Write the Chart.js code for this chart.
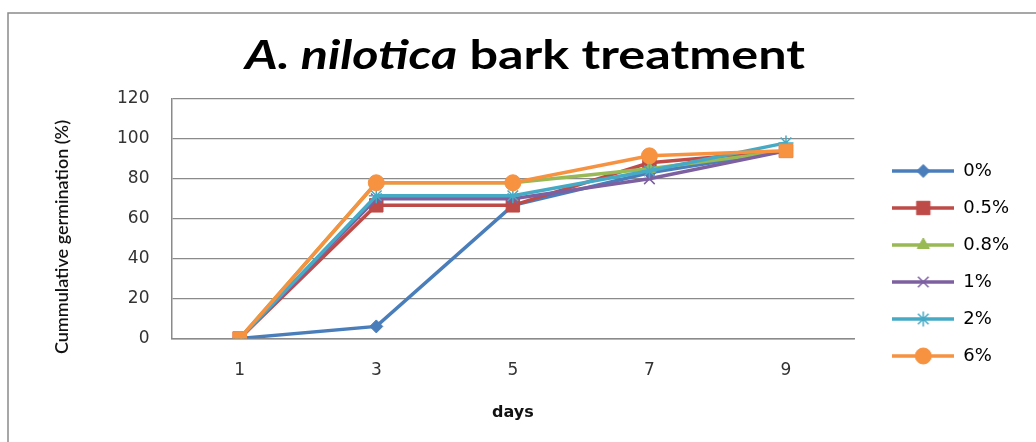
<!DOCTYPE html>
<html>
<head>
<meta charset="utf-8">
<script src="https://cdn.jsdelivr.net/npm/chart.js@4.4.1/dist/chart.umd.min.js"></script>
<style>
  html, body { margin: 0; padding: 0; background: #ffffff; }
  #wrap { width: 1036px; height: 442px; }
</style>
</head>
<body>
<div id="wrap"><canvas id="c" width="1036" height="442"></canvas></div>
<script>
// Cumulative germination (%) of A. nilotica seeds by day, per bark-extract concentration
const days = ['1', '3', '5', '7', '9'];
const seriesNames = ['0%', '0.5%', '0.8%', '1%', '2%', '6%'];
const germ0 = [0, 6, 66.7, 83, 94];
const germ05 = [0, 66.7, 66.7, 88, 94];
const germ08 = [0, 78, 78, 85, 94];
const germ1 = [0, 70, 70, 80, 94];
const germ2 = [0, 71.5, 71.5, 84, 98];
const germ6 = [0, 78, 78, 91.5, 94];
const yTicks = [0, 20, 40, 60, 80, 100, 120];
const yTitle = 'Cummulative germination (%)';

const seriesValues = [germ0, germ05, germ08, germ1, germ2, germ6];
const colors = ['#4A7EBB', '#BE4B48', '#98B954', '#7D60A0', '#46AAC5', '#F69240'];
const styles = ['rectRot', 'rect', 'triangle', 'crossRot', 'star', 'circle'];
const radii = [6.5, 9.5, 7, 7.5, 7.5, 8];

const datasets = seriesValues.map((vals, i) => ({
  label: seriesNames[i],
  data: vals,
  borderColor: colors[i],
  backgroundColor: colors[i],
  borderWidth: 3.5,
  pointStyle: i === 5 ? ['rect', 'circle', 'circle', 'circle', 'rect'] : styles[i],
  pointRadius: i === 5 ? [9.5, 8, 8, 8, 9.5] : radii[i],
  pointBorderWidth: (styles[i] === 'crossRot' || styles[i] === 'star') ? 1.5 : 1,
  pointBorderColor: colors[i],
  pointBackgroundColor: colors[i],
  tension: 0,
  order: seriesValues.length - i
}));

// legend swatch: a short line with the series marker in the middle
function swatch(i) {
  const w = 62, h = 22;
  const cv = document.createElement('canvas');
  cv.width = w; cv.height = h;
  const g = cv.getContext('2d');
  g.strokeStyle = colors[i];
  g.lineWidth = 3.5;
  g.beginPath(); g.moveTo(0, h / 2); g.lineTo(w, h / 2); g.stroke();
  g.fillStyle = colors[i];
  g.lineWidth = (styles[i] === 'crossRot' || styles[i] === 'star') ? 1.5 : 1;
  Chart.helpers.drawPoint(g, { pointStyle: styles[i], radius: radii[i], borderWidth: g.lineWidth }, w / 2, h / 2);
  return cv;
}

const frame = {
  id: 'frame',
  afterLayout(chart) {
    // nudge the legend column into the right margin
    const lg = chart.legend;
    lg.left += 19; lg.right += 19;
    lg.top += 1; lg.bottom += 1;
  },
  beforeDraw(chart) {
    const ctx = chart.ctx;
    ctx.save();
    ctx.fillStyle = '#ffffff';
    ctx.fillRect(0, 0, chart.width, chart.height);
    ctx.strokeStyle = '#8a8a8a';
    ctx.lineWidth = 1.5;
    ctx.strokeRect(8, 13, chart.width + 20, chart.height + 20);
    ctx.restore();
  },
  afterDraw(chart) {
    const ctx = chart.ctx;
    // rotated value-axis title, sitting a little below the plot's middle
    ctx.save();
    ctx.translate(62, 237);
    ctx.rotate(-Math.PI / 2);
    ctx.font = '600 18px Lato';
    ctx.fillStyle = '#111111';
    ctx.textAlign = 'center';
    ctx.textBaseline = 'middle';
    ctx.fillText(yTitle, 0, 0);
    ctx.restore();

    // title with italic species name followed by upright text
    ctx.save();
    const it = 'bold italic 40px Lato';
    const up = 'bold 40px Lato';
    const a = 'A. nilotica';
    const b = ' bark treatment';
    ctx.font = it; const wa = ctx.measureText(a).width;
    ctx.font = up; const wb = ctx.measureText(b).width;
    const target = 560;
    const sx = target / (wa + wb);
    ctx.translate(245, 69);
    ctx.scale(sx, 1);
    ctx.fillStyle = '#000000';
    ctx.textBaseline = 'alphabetic';
    ctx.textAlign = 'left';
    ctx.font = it; ctx.fillText(a, 0, 0);
    ctx.font = up; ctx.fillText(b, wa, 0);
    ctx.restore();
  }
};

new Chart(document.getElementById('c'), {
  type: 'line',
  data: { labels: days, datasets },
  plugins: [frame],
  options: {
    responsive: false,
    animation: false,
    layout: { padding: { top: 99, left: 95, right: 36, bottom: 16 } },
    plugins: {
      title: { display: false },
      tooltip: { enabled: false },
      legend: {
        position: 'right',
        labels: {
          usePointStyle: true,
          pointStyleWidth: 62,
          padding: 19,
          color: '#222222',
          font: { family: 'DejaVu Sans', size: 18 },
          generateLabels(chart) {
            return seriesNames.map((n, i) => ({
              text: n,
              pointStyle: swatch(i),
              fillStyle: colors[i],
              strokeStyle: colors[i],
              lineWidth: 0,
              hidden: false,
              datasetIndex: i
            }));
          }
        }
      }
    },
    scales: {
      x: {
        offset: true,
        grid: { display: false, drawTicks: false },
        border: { display: true, color: '#8a8a8a', width: 1.5 },
        ticks: { padding: 22, color: '#333333', font: { family: 'DejaVu Sans', size: 17 } },
        title: { display: true, text: 'days', color: '#111111', padding: { top: 0 }, font: { family: 'DejaVu Sans', size: 16, weight: 'bold' } }
      },
      y: {
        min: 0,
        max: 120,
        afterBuildTicks(scale) { scale.ticks = yTicks.map(v => ({ value: v })); },
        grid: { color: '#8a8a8a', lineWidth: 1.2, drawTicks: false },
        border: { display: true, color: '#8a8a8a', width: 1.5 },
        ticks: { padding: 22, color: '#333333', font: { family: 'DejaVu Sans', size: 17 } },
        title: { display: false }
      }
    }
  }
});
</script>
</body>
</html>
